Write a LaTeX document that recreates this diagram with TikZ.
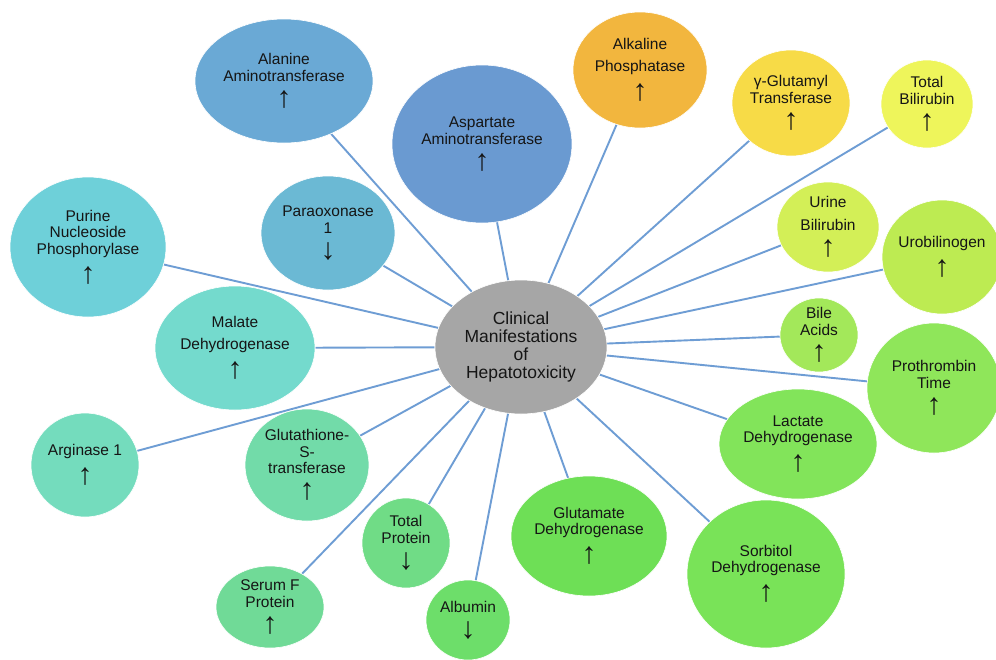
\documentclass[tikz,border=0pt]{standalone}
\usepackage{fontspec}
\setmainfont{Liberation Sans}
\usetikzlibrary{shapes.geometric,backgrounds}
\definecolor{linkc}{HTML}{6E9DD4}
\definecolor{txtc}{HTML}{151515}
\definecolor{cCen}{HTML}{A6A6A6}
\definecolor{cAla}{HTML}{6AA9D5}
\definecolor{cAsp}{HTML}{6A9AD1}
\definecolor{cAlk}{HTML}{F2B63E}
\definecolor{cGgt}{HTML}{F7DB47}
\definecolor{cTbil}{HTML}{EEF55B}
\definecolor{cUbil}{HTML}{D3EF57}
\definecolor{cUro}{HTML}{BDEB52}
\definecolor{cBile}{HTML}{A3E85A}
\definecolor{cPt}{HTML}{8FE65A}
\definecolor{cLdh}{HTML}{82E45A}
\definecolor{cSdh}{HTML}{79E358}
\definecolor{cGdh}{HTML}{6EDF56}
\definecolor{cAlb}{HTML}{6DDE6A}
\definecolor{cTp}{HTML}{70DC86}
\definecolor{cSfp}{HTML}{70DA97}
\definecolor{cGst}{HTML}{72DBA9}
\definecolor{cArg}{HTML}{74DCBD}
\definecolor{cMdh}{HTML}{74DACD}
\definecolor{cPnp}{HTML}{6ED0D9}
\definecolor{cPon}{HTML}{6BB9D4}
\tikzset{
  bub/.style n args={3}{ellipse, inner sep=0pt, minimum width=#1pt*2, minimum height=#2pt*2, fill=#3, draw=white, line width=0.6pt},
  lbl/.style={align=center, text=txtc, font=\fontsize{15.5}{16.5}\selectfont, inner sep=0pt},
  clbl/.style={align=center, text=txtc, font=\fontsize{17.5}{18}\selectfont, inner sep=0pt},
  link/.style={draw=linkc, line width=1.9pt},
}
\newcommand{\up}{\\[8pt]{\fontsize{30}{30}\selectfont ↑}}
\newcommand{\dn}{\\[8pt]{\fontsize{30}{30}\selectfont ↓}}
\begin{document}
\begin{tikzpicture}[x=1pt,y=-1pt]
\useasboundingbox (0,0) rectangle (996,659);
\clip (0,0) rectangle (996,659);
% bubbles
\node[bub={86}{67}{cCen}] (cen) at (521,347) {};
\node[bub={89}{62}{cAla}] (ala) at (284,81) {};
\node[bub={90}{79}{cAsp}] (asp) at (482,144) {};
\node[bub={67}{58}{cAlk}] (alk) at (640,70) {};
\node[bub={59}{53}{cGgt}] (ggt) at (791,103) {};
\node[bub={46}{44}{cTbil}] (tbil) at (927,104) {};
\node[bub={51}{45}{cUbil}] (ubil) at (828,227) {};
\node[bub={60}{57}{cUro}] (uro) at (942,257) {};
\node[bub={39}{37}{cBile}] (bile) at (819,335) {};
\node[bub={67}{65}{cPt}] (pt) at (934,388) {};
\node[bub={79}{55}{cLdh}] (ldh) at (798,444) {};
\node[bub={79}{74}{cSdh}] (sdh) at (766,574) {};
\node[bub={78}{60}{cGdh}] (gdh) at (589,536) {};
\node[bub={42}{40}{cAlb}] (alb) at (468,620) {};
\node[bub={44}{45}{cTp}] (tp) at (406,543) {};
\node[bub={54}{41}{cSfp}] (sfp) at (270,607) {};
\node[bub={62}{56}{cGst}] (gst) at (307,465) {};
\node[bub={54}{52}{cArg}] (arg) at (85,465) {};
\node[bub={80}{62}{cMdh}] (mdh) at (235,348) {};
\node[bub={78}{70}{cPnp}] (pnp) at (88,247) {};
\node[bub={67}{57}{cPon}] (pon) at (328,233) {};
% labels
\node[clbl] (cen-t) at (cen) {Clinical\\Manifestations\\of\\Hepatotoxicity};
\node[lbl] (ala-t) at (ala) {Alanine\\Aminotransferase\up};
\node[lbl] (asp-t) at (asp) {Aspartate\\Aminotransferase\up};
\node[lbl] (alk-t) at (alk) {Alkaline\\[6pt]Phosphatase\up};
\node[lbl] (ggt-t) at (ggt) {γ-Glutamyl\\Transferase\up};
\node[lbl] (tbil-t) at (tbil) {Total\\Bilirubin\up};
\node[lbl] (ubil-t) at (ubil) {Urine\\[6pt]Bilirubin\up};
\node[lbl] (uro-t) at (uro) {Urobilinogen\up};
\node[lbl] (bile-t) at (bile) {Bile\\Acids\up};
\node[lbl] (pt-t) at (pt) {Prothrombin\\Time\up};
\node[lbl] (ldh-t) at (ldh) {Lactate\\Dehydrogenase\up};
\node[lbl] (sdh-t) at (sdh) {Sorbitol\\Dehydrogenase\up};
\node[lbl] (gdh-t) at (gdh) {Glutamate\\Dehydrogenase\up};
\node[lbl] (alb-t) at (alb) {Albumin\dn};
\node[lbl] (tp-t) at (tp) {Total\\Protein\dn};
\node[lbl] (sfp-t) at (sfp) {Serum F\\Protein\up};
\node[lbl] (gst-t) at (gst) {Glutathione-\\S-\\transferase\up};
\node[lbl] (arg-t) at (arg) {Arginase 1\up};
\node[lbl] (mdh-t) at (mdh) {Malate\\[6pt]Dehydrogenase\up};
\node[lbl] (pnp-t) at (pnp) {Purine\\Nucleoside\\Phosphorylase\up};
\node[lbl] (pon-t) at (pon) {Paraoxonase\\1\dn};
% connectors
\begin{scope}[on background layer]
\fill[white] (0,0) rectangle (996,659);
\foreach \n in {ala,asp,alk,ggt,tbil,ubil,uro,bile,pt,ldh,sdh,gdh,alb,tp,sfp,gst,arg,mdh,pnp,pon}
  \draw[link] (cen) -- (\n);
\end{scope}
\end{tikzpicture}
\end{document}
